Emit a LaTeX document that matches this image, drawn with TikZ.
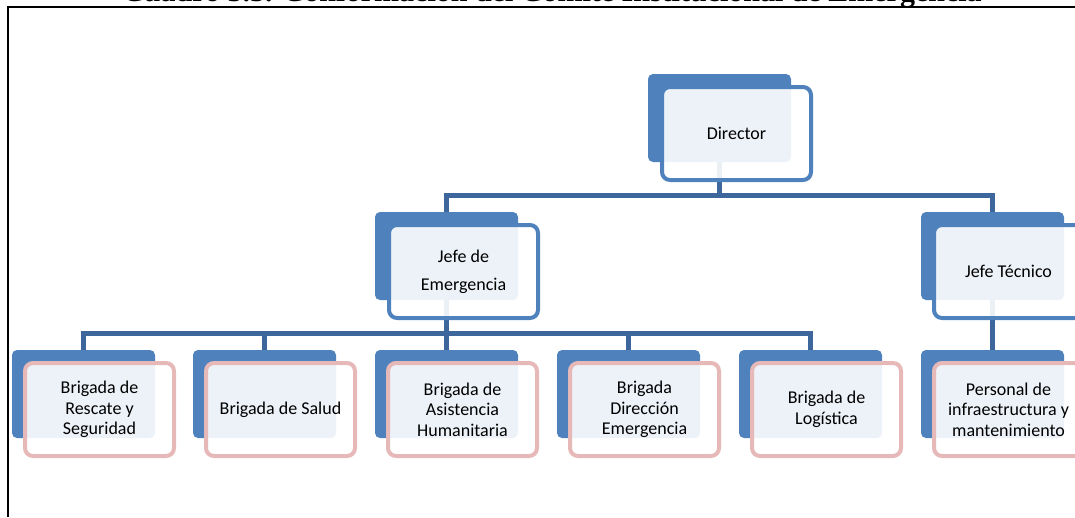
\documentclass[tikz,border=0pt]{standalone}
\usepackage{fontspec}
\setmainfont{Carlito}
\newfontfamily\titlefont{Liberation Serif}
\definecolor{boxblue}{RGB}{79,129,189}
\definecolor{linkblue}{RGB}{61,103,156}
\definecolor{pinkline}{RGB}{230,185,184}
\begin{document}
\begin{tikzpicture}[x=1pt,y=-1pt,
  backbox/.style={draw=none, fill=boxblue, rounded corners=5pt, minimum width=143pt,
    minimum height=88pt, anchor=north west, inner sep=0pt, outer sep=0pt},
  frontbox/.style={line width=4pt, fill=white, fill opacity=0.9, text opacity=1,
    rounded corners=8pt, minimum width=149pt, minimum height=93pt, anchor=north west,
    inner sep=2pt, align=center, font=\fontsize{18}{20.5}\selectfont},
  frontblue/.style={frontbox, draw=boxblue},
  frontpink/.style={frontbox, draw=pinkline},
  link/.style={draw=linkblue, line width=5pt},
  frame/.style={draw=black, line width=1.6pt}]
\useasboundingbox (0,0) rectangle (1075,517);
\clip (0,0) rectangle (1075,517);
% title (cut off at top)
\node[anchor=base, font=\titlefont\bfseries\fontsize{30}{34}\selectfont] (title) at (552,1.2)
  {Cuadro 3.3. Conformación del Comité Institucional de Emergencia};
\draw[frame] (8,517) -- (8,7) -- (1075,7);
% back boxes
\node[backbox] (dirB) at (648,74) {};
\node[backbox] (jeB) at (375,212) {};
\node[backbox] (jtB) at (921,212) {};
\node[backbox] (b1B) at (12,350) {};
\node[backbox] (b2B) at (193,350) {};
\node[backbox] (b3B) at (375,350) {};
\node[backbox] (b4B) at (557,350) {};
\node[backbox] (b5B) at (739,350) {};
\node[backbox] (b6B) at (921,350) {};
% connectors
\coordinate (h1) at (719.5,195.5);
\coordinate (h2) at (446.5,333);
\draw[link] (dirB.south) -- (h1) -| (jeB.north);
\draw[link] (h1) -| (jtB.north);
\draw[link] (jeB.south) -- (h2);
\draw[link] (h2) -| (b1B.north);
\draw[link] (h2) -| (b2B.north);
\draw[link] (h2) -- (b3B.north);
\draw[link] (h2) -| (b4B.north);
\draw[link] (h2) -| (b5B.north);
\draw[link] (jtB.south) -- (b6B.north);
% front boxes
\node[frontblue] (dir) at (660,85) {Director};
\node[frontblue, font=\fontsize{18}{28}\selectfont] (je) at (387,223) {Jefe de\\Emergencia};
\node[frontblue] (jt) at (932,223) {Jefe Técnico};
\node[frontpink] (b1) at (23,361) {Brigada de\\Rescate y\\Seguridad};
\node[frontpink] (b2) at (204,361) {Brigada de Salud};
\node[frontpink] (b3) at (386,361) {Brigada de\\Asistencia\\Humanitaria};
\node[frontpink] (b4) at (568,361) {Brigada\\Dirección\\Emergencia};
\node[frontpink] (b5) at (750,361) {Brigada de\\Logística};
\node[frontpink] (b6) at (932,361) {Personal de\\infraestructura y\\mantenimiento};
\end{tikzpicture}
\end{document}
